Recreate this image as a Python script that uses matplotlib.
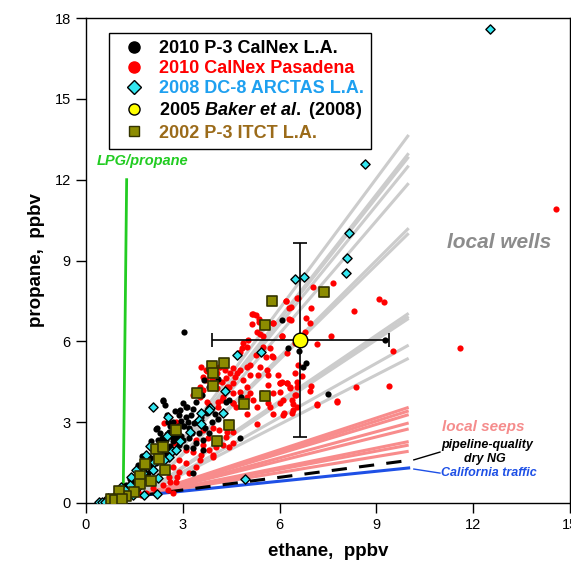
import numpy as np
import matplotlib
matplotlib.use("Agg")
import matplotlib.pyplot as plt
from matplotlib.lines import Line2D

plt.rcParams['font.family'] = ['Liberation Sans', 'DejaVu Sans']
plt.rcParams['mathtext.fontset'] = 'custom'
plt.rcParams['mathtext.it'] = 'Liberation Sans:italic:bold'
plt.rcParams['mathtext.rm'] = 'Liberation Sans:bold'

# ---- data (ethane, propane in ppbv) ----
p3_2010 = [(0.46,0.01),(0.62,0.05),(0.83,0.11),(0.98,0.17),(1.14,0.24),(1.24,0.36),(1.34,0.42),(1.45,0.55),
           (1.55,0.61),(1.65,0.79),(1.76,0.92),(1.91,1.10),(2.12,1.23),(1.96,1.35),(2.17,1.47),(2.38,1.60),
           (2.58,1.72),(2.32,1.84),(2.07,2.03),(2.22,2.34),(2.48,2.34),(2.32,2.22),(2.53,1.97),(2.74,1.97),
           (2.89,2.15),(3.10,2.09),(3.31,2.03),(3.62,1.97),(3.41,2.22),(3.20,2.40),(3.00,2.34),(2.79,2.46),
           (2.58,2.65),(2.17,2.75),(2.89,3.27),(3.10,3.18),(3.31,3.48),(3.10,3.58),(3.41,3.76),(3.02,3.70),
           (2.40,3.80),(2.45,3.64),(1.45,0.85),(1.81,1.35),(2.01,1.66),(2.17,1.78),(1.65,1.16),(3.62,2.34),
           (3.82,2.59),(3.20,2.77),(3.00,2.84),(3.36,2.96),(4.34,3.76),(3.33,1.12),(4.77,2.40),(2.19,2.77),
           (4.00,3.32),(2.52,3.26),(3.05,6.36),(4.80,3.95),(4.44,3.82),(3.59,4.01),(2.40,3.82),(3.12,3.57),
           (6.06,6.79),(9.27,6.05),(6.27,5.75),(6.61,5.65),(6.82,5.21),(6.71,5.06),(7.49,4.05),
           (0.55,0.03),(0.70,0.08),(0.90,0.20),(1.05,0.30),(1.20,0.45),(1.30,0.55),(1.40,0.70),(1.50,0.75),
           (1.60,0.95),(1.70,1.05),(1.80,1.20),(1.85,1.45),(1.95,1.55),(2.05,1.40),(2.15,1.65),(2.25,1.90),
           (2.30,2.00),(2.40,2.15),(2.45,1.85),(2.60,2.10),(2.70,2.30),(2.85,2.60),(2.95,2.50),(2.60,2.85),
           (2.70,3.00),(3.05,2.85),(3.15,3.00),(3.50,2.60),(3.70,2.80),(2.90,3.45),(2.75,3.40),(2.55,3.00),
           (2.30,2.60),(2.00,2.30),(1.75,1.75),(1.60,1.40),(1.35,0.90),(1.25,0.65),(3.55,3.20),(3.30,2.60),
           (4.10,3.10),(3.90,3.00),(3.80,4.30),(4.10,4.60),(3.65,4.55),
           (1.10,0.35),(1.50,0.95),(1.90,1.75),(2.10,1.95),(2.35,2.40),(2.65,2.45),(2.85,2.85),(3.25,3.25),
           (2.95,3.05),(3.45,3.05),(3.75,3.35),(2.20,2.05),(1.70,1.30),(2.50,2.55)]

pasadena = [(5.19,7.02),(5.27,6.98),(5.37,6.73),(5.13,6.64),(5.81,6.69),(6.20,7.51),(6.56,7.60),(6.34,7.29),
            (6.30,6.82),(5.29,6.36),(5.39,6.27),(5.50,6.20),(6.06,6.20),(5.01,6.05),(4.88,5.93),(4.82,5.74),
            (4.98,5.78),(4.77,5.62),(5.70,5.77),(5.58,5.43),(5.27,5.49),(5.81,5.43),(5.08,5.12),(4.98,5.03),
            (5.39,5.06),(5.62,4.94),(4.77,4.94),(4.62,4.66),(4.69,4.81),(4.46,4.84),(4.31,4.94),(4.15,5.03),
            (4.05,4.84),(3.74,4.90),(3.72,4.57),(3.89,4.59),(4.20,4.50),(4.57,4.44),(4.88,4.57),(5.08,4.75),
            (5.34,4.75),(5.65,4.75),(5.96,4.75),(6.01,4.44),(6.22,4.44),(6.32,4.26),(6.53,4.32),(6.50,4.01),
            (6.37,3.82),(6.53,3.57),(6.12,3.82),(6.01,4.13),(5.81,4.07),(5.65,4.38),(5.44,4.07),(5.08,4.07),
            (4.98,3.95),(5.19,3.82),(5.29,3.57),(5.70,3.57),(6.01,3.70),(4.65,3.57),(4.57,3.70),(4.20,3.82),
            (4.10,3.57),(3.53,4.32),(3.53,3.95),(3.33,4.01),(3.74,3.76),(4.98,4.32),(4.77,4.13),(4.57,4.07),
            (4.36,4.32),(4.05,4.26),(3.64,4.19),
            (3.56,5.06),(3.72,4.94),(3.62,4.69),(4.13,5.06),(4.55,5.00),(4.34,4.63),(4.08,4.51),(4.44,4.32),
            (4.24,3.95),(4.55,3.70),(3.82,3.64),(4.08,3.76),(3.41,3.02),(3.62,2.71),(3.77,2.40),(3.93,2.77),
            (4.13,2.71),(4.34,2.46),(4.55,2.65),(3.41,2.34),(3.62,2.15),(3.82,1.97),(4.03,2.09),(4.24,2.15),
            (4.44,2.09),(3.10,1.97),(3.31,1.91),(3.56,1.78),(3.93,1.72),(2.89,1.60),(3.10,1.47),(3.41,1.35),
            (2.69,1.35),(2.89,1.16),(3.20,1.10),(2.58,0.98),(2.79,0.79),(2.38,0.67),(2.53,0.48),(2.69,0.36),
            (2.07,0.55),(2.17,0.42),(1.70,0.30),(1.60,0.42),(1.86,0.36),(2.74,2.22),(2.79,3.02),(2.43,2.96),
            (7.64,8.15),(7.02,8.00),(6.19,7.50),(6.55,7.60),(6.97,7.25),(6.30,7.25),(9.09,7.56),(9.23,7.45),
            (8.31,7.12),(6.35,6.79),(6.81,6.86),(6.94,6.67),(6.80,6.36),(6.06,6.20),(7.59,6.20),(7.15,5.90),
            (9.52,5.65),(6.24,5.56),(6.48,5.93),(6.58,5.12),(6.48,4.84),(6.68,4.73),(6.53,4.50),(6.22,4.44),
            (6.06,4.50),(6.32,4.32),(6.48,4.01),(6.40,3.67),(6.14,3.33),(6.37,3.35),(6.97,4.35),(6.94,4.15),
            (8.37,4.31),(9.40,4.35),(7.77,3.80),(7.15,3.66),(5.14,7.00),(5.36,6.82),(5.80,6.67),(5.49,5.80),
            (5.75,5.47),(6.01,4.44),
            (4.98,3.32),(5.81,3.32),(6.12,3.26),(6.43,3.45),(7.15,3.63),(7.77,3.76),(5.29,2.95),(5.65,3.70),
            (4.36,2.64),(4.57,2.21),(3.95,1.78),(3.53,1.59),(2.81,0.97),(2.60,0.79),
            (14.56,10.90),(11.60,5.75)]

arctas = [(12.52,17.60),(8.65,12.58),(8.15,10.03),(8.08,9.11),(8.06,8.55),(6.48,8.30),(6.77,8.40),(5.42,5.62),
          (4.69,5.49),(4.32,4.16),(2.09,3.57),(3.84,3.51),(2.54,3.21),(4.26,3.35),(3.56,3.33),(3.51,3.08),
          (3.56,2.92),(3.23,2.65),(2.65,1.94),(2.79,1.97),(2.58,1.72),(1.86,1.78),(1.99,2.12),(2.12,1.54),
          (1.76,1.10),(1.55,1.23),(1.39,0.98),(1.36,0.67),(1.08,0.61),(1.03,0.42),(0.88,0.24),(0.67,0.17),
          (0.41,0.05),(1.81,0.30),(2.07,1.23),(2.22,0.92),(2.43,1.60),(3.82,3.45),(4.93,0.89),(2.19,0.35),
          (0.50,0.02),(0.60,0.04),(1.20,0.50),(1.45,0.30),(1.60,0.60),(2.90,2.30),(2.50,2.50)]

baker_x, baker_y = 6.63, 6.05
baker_xerr = [[2.73], [2.76]]
baker_yerr = 3.60

itct = [(7.39,7.84),(5.77,7.51),(5.56,6.61),(4.27,5.21),(3.89,5.09),(3.93,4.81),(3.93,4.35),(3.44,4.07),
        (5.56,3.97),(4.90,3.66),(4.42,2.90),(4.05,2.31),(2.79,2.71),(2.17,2.01),(2.40,2.07),(2.27,1.63),
        (1.84,1.45),(2.46,1.23),(1.67,1.02),(2.01,0.83),(1.67,0.69),(1.50,0.40),(1.24,0.26),(1.03,0.46),
        (0.77,0.14),(0.91,0.11),(1.11,0.14)]

# mixing lines from background to ethane = 10 ppbv
bg = (1.7, 0.28)
line_end_x = 10.0
wells_end = [13.66, 12.98, 12.85, 12.52, 11.87, 10.20, 10.01, 7.04, 6.92, 6.85, 5.86, 5.37]
seeps_end = [3.55, 3.42, 3.28, 2.97, 2.75, 2.28, 2.15, 1.92]
ng_end = 1.58
traffic_end = 1.30
lpg_line = ([1.155, 1.26], [0.5, 12.0])

fig = plt.figure(figsize=(5.71, 5.69), dpi=100)
ax = fig.add_axes([86/571, 66/569, 484/571, 485/569])

for y in wells_end:
    ax.plot([bg[0], line_end_x], [bg[1], y], color='#cccccc', lw=2.2, zorder=1, solid_capstyle='butt')
for y in seeps_end:
    ax.plot([bg[0], line_end_x], [bg[1], y], color='#f88c8c', lw=2.2, zorder=1, solid_capstyle='butt')
ax.plot([bg[0], line_end_x], [bg[1], ng_end], color='black', lw=2.2, ls=(0, (5, 4)), zorder=1.2)
ax.plot([bg[0], line_end_x], [bg[1], traffic_end], color='#1e50e6', lw=2.2, zorder=1.1)
ax.plot(lpg_line[0], lpg_line[1], color='#22cc22', lw=2.0, zorder=1)

r = np.array(pasadena)
ax.scatter(r[:, 0], r[:, 1], s=20, c='#ff0000', linewidths=0, zorder=2)
b = np.array(p3_2010)
ax.scatter(b[:, 0], b[:, 1], s=20, c='black', linewidths=0, zorder=3)
c = np.array(arctas)
ax.scatter(c[:, 0], c[:, 1], s=22, marker='D', c='#33e6f0', edgecolors='black', linewidths=1.0, zorder=4)
o = np.array(itct)
ax.scatter(o[:, 0], o[:, 1], s=55, marker='s', c='#8c8c00', edgecolors='#333300', linewidths=1.2, zorder=5)

ax.errorbar(baker_x, baker_y, xerr=baker_xerr, yerr=baker_yerr, fmt='none', ecolor='black',
            elinewidth=1.2, capsize=5, capthick=1.2, zorder=6)
ax.scatter([baker_x], [baker_y], s=110, c='#ffff00', edgecolors='black', linewidths=1.0, zorder=7)

ax.set_xlim(0, 15)
ax.set_ylim(0, 18)
ax.set_xticks([0, 3, 6, 9, 12, 15])
ax.set_yticks([0, 3, 6, 9, 12, 15, 18])
ax.tick_params(direction='out', length=7, width=1, labelsize=10.5, pad=4)
for s in ax.spines.values():
    s.set_linewidth(1.0)
ax.set_xlabel('ethane,  ppbv', fontsize=13.5, fontweight='bold', labelpad=8)
ax.set_ylabel('propane,  ppbv', fontsize=13.5, fontweight='bold', labelpad=7)

# annotations
ax.text(1.74, 12.71, 'LPG/propane', color='#22cc22', fontsize=10.5, fontweight='bold', style='italic',
        ha='center', va='center')
ax.text(12.81, 9.65, 'local wells', color='#8c8c8c', fontsize=15, fontweight='bold', style='italic',
        ha='center', va='center')
ax.text(12.30, 2.82, 'local seeps', color='#f58c8c', fontsize=11, fontweight='bold', style='italic',
        ha='center', va='center')
ax.text(12.44, 2.15, 'pipeline-quality', color='black', fontsize=9, fontweight='bold', style='italic',
        ha='center', va='center')
ax.text(12.36, 1.63, 'dry NG', color='black', fontsize=9, fontweight='bold', style='italic',
        ha='center', va='center')
ax.text(12.49, 1.11, 'California traffic', color='#1e50e6', fontsize=9, fontweight='bold', style='italic',
        ha='center', va='center')
ax.plot([10.16, 10.97], [1.60, 1.89], color='black', lw=1.0)
ax.plot([10.16, 10.97], [1.26, 1.11], color='#1e50e6', lw=1.0)

handles = [
    Line2D([], [], ls='none', marker='o', ms=8, mfc='black', mec='black'),
    Line2D([], [], ls='none', marker='o', ms=8, mfc='#ff0000', mec='#ff0000'),
    Line2D([], [], ls='none', marker='D', ms=7.5, mfc='#33e6f0', mec='black', mew=1.0),
    Line2D([], [], ls='none', marker='o', ms=8, mfc='#ffff00', mec='black', mew=1.0),
    Line2D([], [], ls='none', marker='s', ms=7.5, mfc='#8c8c00', mec='#333300', mew=1.0),
]
labels = ['2010 P-3 CalNex L.A.', '2010 CalNex Pasadena', '2008 DC-8 ARCTAS L.A.',
          r'2005 $\it{Baker\ et\ al.}$ (2008)', '2002 P-3 ITCT L.A.']
label_colors = ['black', '#ff0000', '#1ea0f0', 'black', '#9b6b1a']
leg = ax.legend(handles, labels, loc='upper left', bbox_to_anchor=(0.0475, 0.969), borderaxespad=0,
                frameon=True, fancybox=False, edgecolor='black', framealpha=1,
                prop={'weight': 'bold', 'size': 13}, handletextpad=0.35, labelspacing=0.17,
                borderpad=0.4, handlelength=2.0)
leg.get_frame().set_linewidth(1.0)
leg.set_zorder(10)
for t, col in zip(leg.get_texts(), label_colors):
    t.set_color(col)

fig.savefig('out.png', dpi=100)
